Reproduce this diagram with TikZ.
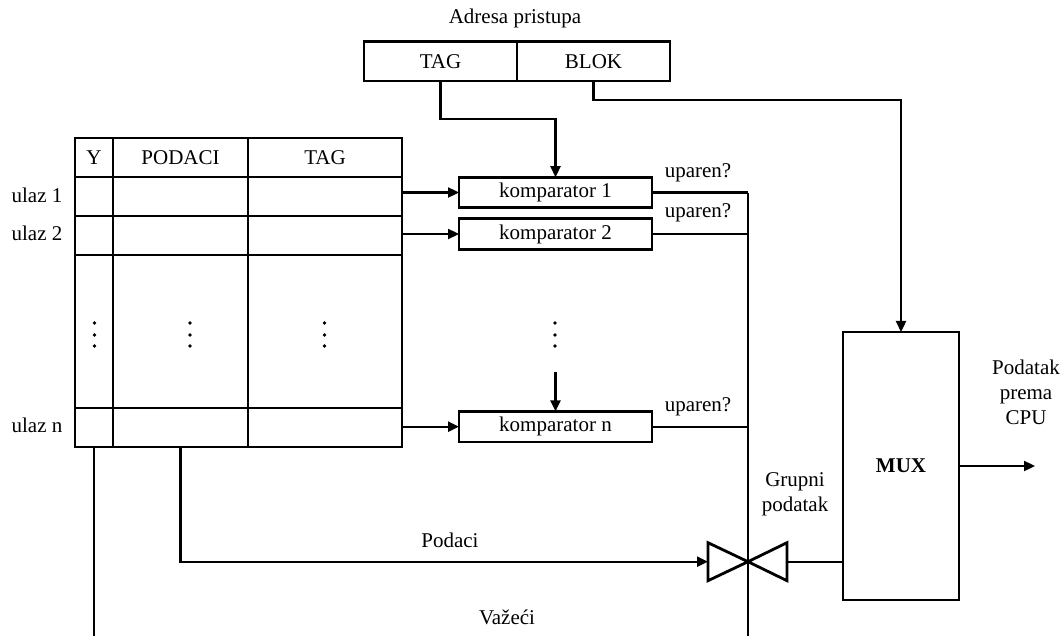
\documentclass[tikz,border=0pt]{standalone}
\usepackage{fontspec}
\setmainfont{Liberation Serif}
\usetikzlibrary{arrows.meta}
\begin{document}
\begin{tikzpicture}[x=1pt,y=-1pt,
  every node/.style={font=\fontsize{21}{25}\selectfont,inner sep=0pt,outer sep=0pt},
  cell/.style={draw,line width=2.8pt},
  colY/.style={minimum width=38pt},
  colP/.style={minimum width=135pt},
  colT/.style={minimum width=154pt},
  rowH/.style={minimum height=39pt},
  rowD/.style={minimum height=153pt},
  addrbox/.style={draw,line width=2.8pt,minimum width=153pt,minimum height=39.5pt},
  compbox/.style={draw,line width=2.8pt,minimum width=193pt,minimum height=30.5pt},
  muxbox/.style={draw,line width=2.8pt,minimum width=116pt,minimum height=268pt,font=\fontsize{21}{25}\selectfont\bfseries},
  conn/.style={line width=2.3pt},
  arr/.style={conn,-{Triangle[length=11pt,width=10pt]}},
  lbl/.style={align=center},
  dotmark/.style={fill=black}
]
\useasboundingbox (0,0) rectangle (1061,636);

% address
\node[lbl] (adr) at (515,18) {Adresa pristupa};
\node[addrbox] (tagf) at (440.5,61.3) {TAG};
\node[addrbox] (blok) at (593.5,61.3) {BLOK};

% table
\node[cell,colY,rowH] (hY) at (94,157.5) {Y};
\node[cell,colP,rowH] (hP) at (180.5,157.5) {PODACI};
\node[cell,colT,rowH] (hT) at (325,157.5) {TAG};
\node[cell,colY,rowH] (r1Y) at (94,196.5) {};
\node[cell,colP,rowH] (r1P) at (180.5,196.5) {};
\node[cell,colT,rowH] (r1T) at (325,196.5) {};
\node[cell,colY,rowH] (r2Y) at (94,235.5) {};
\node[cell,colP,rowH] (r2P) at (180.5,235.5) {};
\node[cell,colT,rowH] (r2T) at (325,235.5) {};
\node[cell,colY,rowD] (dY) at (94,331.5) {};
\node[cell,colP,rowD] (dP) at (180.5,331.5) {};
\node[cell,colT,rowD] (dT) at (325,331.5) {};
\node[cell,colY,rowH] (nY) at (94,427.5) {};
\node[cell,colP,rowH] (nP) at (180.5,427.5) {};
\node[cell,colT,rowH] (nT) at (325,427.5) {};

\node (u1) at (37,195) {ulaz 1};
\node (u2) at (37,233) {ulaz 2};
\node (un) at (37,425) {ulaz n};

% dots
\foreach \xx in {94.5,190,324.5,555} {
  \foreach \yy in {323,335,346} {
    \fill[dotmark] (\xx,\yy) circle (1.8pt);
  }
}

% comparators
\node[compbox] (k1) at (555.5,192.5) {komparator 1};
\node[compbox] (k2) at (555.5,234) {komparator 2};
\node[compbox] (kn) at (555.5,426.7) {komparator n};

\node (m1) at (698,173) {uparen?};
\node (m2) at (698,213) {uparen?};
\node (mn) at (698,407) {uparen?};

% mux
\node[muxbox] (mux) at (901,466) {MUX};
\node[lbl] (cpu) at (1026,392) {Podatak\\prema\\CPU};
\coordinate (cpuend) at (1035,466);

% valve
\coordinate (v) at (748,561.7);
\coordinate (vl) at (708,561.7);
\coordinate (vr) at (787,561.7);
\draw[line width=2.8pt,line join=miter] (vl) ++(0,-19) -- ++(0,38) -- (v) -- cycle;
\draw[line width=2.8pt,line join=miter] (vr) ++(0,-19) -- ++(0,38) -- (v) -- cycle;

\node[lbl] (grp) at (795,494) {Grupni\\podatak};
\node (pod) at (450,540) {Podaci};
\node (vaz) at (507,617) {Važeći};

% bus
\coordinate (busTop) at (748,193);
\coordinate (busBot) at (748,636);
\coordinate (valBot) at (94,636);
\coordinate (dnTop) at (555.5,372);

% connectors
\draw[arr] (tagf.south) -- ++(0,38) -| (k1.north);
\draw[arr] (blok.south) -- ++(0,19) -| (mux.north);
\draw[arr] (k1.west -| r1T.east) -- (k1.west);
\draw[arr] (k2.west -| r2T.east) -- (k2.west);
\draw[arr] (kn.west -| nT.east) -- (kn.west);
\draw[arr] (dnTop) -- (kn.north);
\draw[conn] (k1.east) -- (k1.east -| busTop);
\draw[conn] (k2.east) -- (k2.east -| busTop);
\draw[conn] (kn.east) -- (kn.east -| busTop);
\draw[line width=2.6pt] (busTop) -- (busBot);
\draw[arr] (nP.south) -- (nP.south |- vl) -- (vl);
\draw[line width=2.6pt] (nY.south) -- (valBot);
\draw[conn] (vr) -- (vr -| mux.west);
\draw[arr] (mux.east) -- (cpuend);
\end{tikzpicture}
\end{document}
